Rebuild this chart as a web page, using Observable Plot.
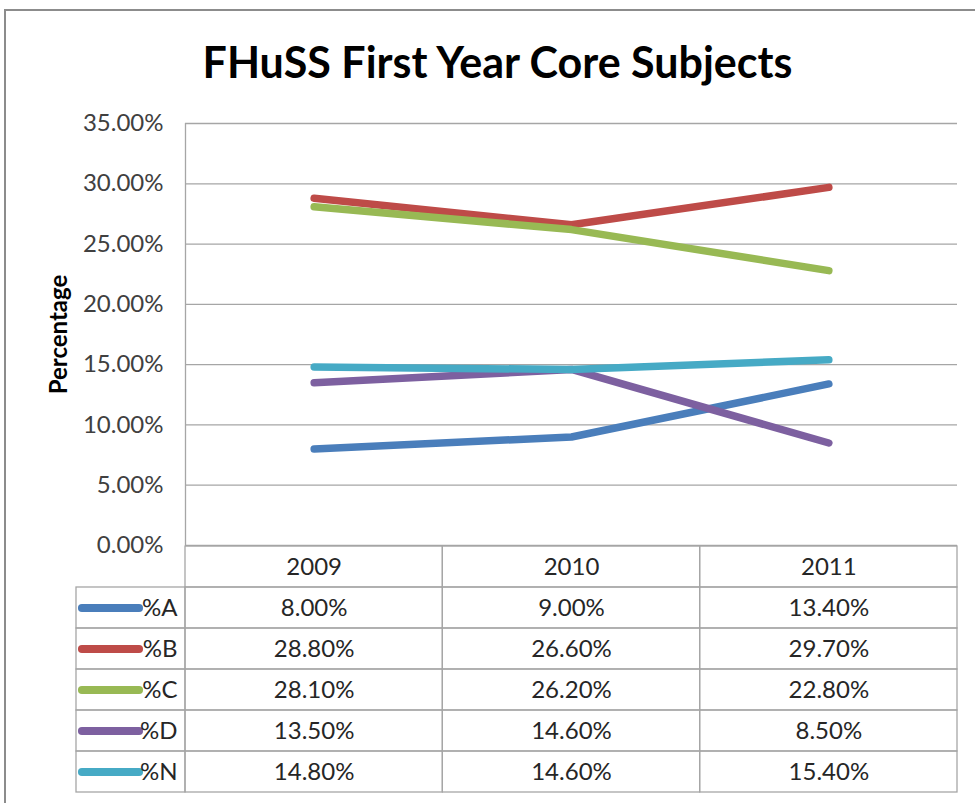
<!DOCTYPE html>
<html>
<head>
<meta charset="utf-8">
<script src="https://cdn.jsdelivr.net/npm/d3@7"></script>
<script src="https://cdn.jsdelivr.net/npm/@observablehq/plot@0.6"></script>
<style>
  html, body { margin: 0; padding: 0; background: #fff; }
  #page { position: relative; width: 975px; height: 803px; overflow: hidden; background: #fff; }
  #frame { position: absolute; left: 4px; top: 9px; width: 990px; height: 810px; border: 2px solid #8c8c8c; box-sizing: border-box; }
  #title { position: absolute; left: 0; width: 995px; top: 33px; text-align: center; font-family: Lato, "Open Sans", sans-serif; font-weight: 700; font-size: 43px; color: #000; line-height: 58px; }
  #chart, #table { position: absolute; left: 0; }
  #chart { top: 0; }
  #table { top: 545px; }
</style>
</head>
<body>
<div id="page">
  <div id="frame"></div>
  <div id="title">FHuSS First Year Core Subjects</div>
  <div id="chart"></div>
  <div id="table"></div>
</div>
<script>
// ---- data ----
const years = ["2009", "2010", "2011"];
const seriesNames = ["%A", "%B", "%C", "%D", "%N"];
const valuesA = [8.00, 9.00, 13.40];
const valuesB = [28.80, 26.60, 29.70];
const valuesC = [28.10, 26.20, 22.80];
const valuesD = [13.50, 14.60, 8.50];
const valuesN = [14.80, 14.60, 15.40];
const seriesColors = ["#4A7EBB", "#BE4B48", "#98B954", "#7D60A0", "#46AAC5"];
const yTicks = [0, 5, 10, 15, 20, 25, 30, 35];
const yLabel = "Percentage";

// ---- build tables ----
const allValues = [valuesA, valuesB, valuesC, valuesD, valuesN];
const points = seriesNames.flatMap((s, si) =>
  years.map((yr, yi) => ({series: s, year: yr, col: yi + 0.5, value: allValues[si][yi]})));
const fmt = v => v.toFixed(2) + "%";

const W = 975;
const ML = 185, MR = 18;
const legendColLeft = -109 / ((W - ML - MR) / 3); // left edge of key column, in column units

const colorScale = {type: "ordinal", domain: seriesNames, range: seriesColors};

const chart = Plot.plot({
  width: W,
  height: 550,
  marginLeft: ML,
  marginRight: MR,
  marginTop: 123,
  marginBottom: 5,
  style: {fontFamily: "Lato, 'Open Sans', sans-serif", fontSize: "24px", color: "#404040", background: "transparent", overflow: "visible"},
  x: {type: "linear", domain: [0, years.length], axis: null},
  y: {domain: [0, 35], ticks: yTicks, tickFormat: fmt, tickSize: 0, tickPadding: 22, label: null},
  color: colorScale,
  marks: [
    Plot.ruleY(yTicks, {stroke: "#a6a6a6", strokeWidth: 1.3}),
    Plot.ruleX([0], {stroke: "#a6a6a6", strokeWidth: 1.3}),
    Plot.line(points, {x: "col", y: "value", z: "series", stroke: "series",
      strokeWidth: 7.5, strokeLinecap: "round", strokeLinejoin: "round"}),
    Plot.text([yLabel], {text: d => d, frameAnchor: "left", textAnchor: "middle", rotate: -90, dx: -126,
      fontWeight: 700, fontSize: 24, fill: "#000"})
  ]
});
document.getElementById("chart").appendChild(chart);

// ---- data table ----
const rows = ["hdr", ...seriesNames];
const headerCells = years.map((yr, i) => ({row: "hdr", x1: i, x2: i + 1, col: i + 0.5, text: yr}));
const valueCells = points.map(p => ({row: p.series, x1: p.col - 0.5, x2: p.col + 0.5, col: p.col, text: fmt(p.value)}));
const keyCells = seriesNames.map(s => ({row: s, x1: legendColLeft, x2: 0}));

const table = Plot.plot({
  width: W,
  height: 252,
  marginLeft: ML,
  marginRight: MR,
  marginTop: 0,
  marginBottom: 4,
  style: {fontFamily: "Lato, 'Open Sans', sans-serif", fontSize: "24px", color: "#262626", background: "transparent", overflow: "visible"},
  x: {type: "linear", domain: [0, years.length], axis: null},
  y: {type: "band", domain: rows, padding: 0, axis: null},
  color: colorScale,
  marks: [
    Plot.barX([...headerCells, ...valueCells, ...keyCells], {x1: "x1", x2: "x2", y: "row", fill: "none", stroke: "#a6a6a6", strokeWidth: 1.3}),
    Plot.text([...headerCells, ...valueCells], {x: "col", y: "row", text: "text", fill: "#262626"}),
    Plot.ruleY(seriesNames, {y: d => d, x1: legendColLeft + 0.023, x2: legendColLeft + 0.245, stroke: d => d,
      strokeWidth: 8, strokeLinecap: "round"}),
    Plot.text(seriesNames, {x: 0, y: d => d, text: d => d, textAnchor: "end", dx: -8, fill: "#262626"})
  ]
});
document.getElementById("table").appendChild(table);
</script>
</body>
</html>
